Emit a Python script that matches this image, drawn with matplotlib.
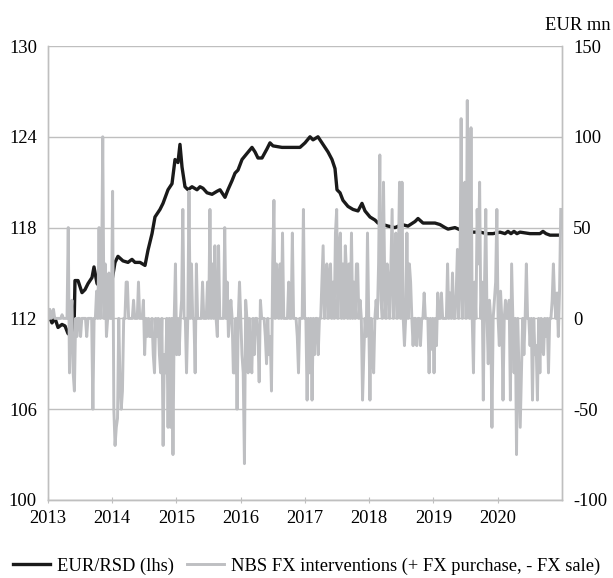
import matplotlib
matplotlib.use("Agg")
import matplotlib.pyplot as plt
import numpy as np
import pandas as pd

plt.rcParams['font.family'] = ['Liberation Serif', 'DejaVu Serif']
plt.rcParams['font.size'] = 13.3

# EUR/RSD exchange rate (lhs), decimal years
fx_years = [2013.000, 2013.062, 2013.109, 2013.156, 2013.218, 2013.265, 2013.311, 2013.374, 2013.405,
            2013.420, 2013.467, 2013.529, 2013.576, 2013.623, 2013.685, 2013.716, 2013.763, 2013.809,
            2013.856, 2013.903, 2013.934, 2013.965, 2013.996, 2014.043, 2014.089, 2014.167, 2014.245,
            2014.307, 2014.354, 2014.432, 2014.510, 2014.556, 2014.619, 2014.665, 2014.743, 2014.790,
            2014.868, 2014.930, 2014.977, 2015.023, 2015.054, 2015.086, 2015.132, 2015.179, 2015.241,
            2015.319, 2015.366, 2015.412, 2015.475, 2015.553, 2015.631, 2015.677, 2015.755, 2015.801,
            2015.864, 2015.911, 2015.957, 2016.020, 2016.097, 2016.175, 2016.222, 2016.268, 2016.331,
            2016.408, 2016.455, 2016.502, 2016.642, 2016.798, 2016.922, 2017.000, 2017.078, 2017.125,
            2017.202, 2017.280, 2017.358, 2017.420, 2017.467, 2017.498, 2017.545, 2017.591, 2017.669,
            2017.747, 2017.825, 2017.887, 2017.934, 2018.012, 2018.089, 2018.136, 2018.214, 2018.292,
            2018.401, 2018.510, 2018.603, 2018.712, 2018.759, 2018.837, 2018.914, 2019.023, 2019.101,
            2019.179, 2019.226, 2019.334, 2019.443, 2019.599, 2019.724, 2019.833, 2019.926, 2020.035,
            2020.113, 2020.159, 2020.206, 2020.253, 2020.299, 2020.346, 2020.502, 2020.657, 2020.704,
            2020.751, 2020.813, 2020.953]
fx_rate = [112.3, 111.7, 112.0, 111.4, 111.6, 111.5, 111.0, 110.8, 111.2,
           114.5, 114.5, 113.7, 113.9, 114.3, 114.7, 115.4, 114.3, 114.1,
           114.8, 114.0, 114.3, 113.8, 114.5, 115.7, 116.1, 115.8, 115.7,
           115.9, 115.7, 115.7, 115.5, 116.5, 117.6, 118.7, 119.2, 119.6,
           120.5, 120.9, 122.5, 122.3, 123.5, 122.0, 120.7, 120.5, 120.7,
           120.5, 120.7, 120.6, 120.3, 120.2, 120.4, 120.5, 120.0, 120.5,
           121.1, 121.6, 121.8, 122.5, 122.9, 123.3, 123.0, 122.6, 122.6,
           123.2, 123.6, 123.4, 123.3, 123.3, 123.3, 123.6, 124.0, 123.8,
           124.0, 123.5, 123.0, 122.5, 121.9, 120.5, 120.3, 119.8, 119.4,
           119.2, 119.1, 119.6, 119.1, 118.7, 118.5, 118.3, 118.2, 118.1,
           118.0, 118.2, 118.1, 118.4, 118.6, 118.3, 118.3, 118.3, 118.2,
           118.0, 117.9, 118.0, 117.8, 117.7, 117.7, 117.6, 117.6, 117.7,
           117.6, 117.75, 117.6, 117.75, 117.6, 117.7, 117.6, 117.6, 117.75,
           117.6, 117.5, 117.5]

# NBS FX interventions (rhs, EUR mn): intervention dates (decimal years) and amounts;
# weeks without an intervention are zero
iv_years = [2013.031, 2013.062, 2013.093, 2013.218, 2013.311,
            2013.342, 2013.374, 2013.389, 2013.420, 2013.451, 2013.514,
            2013.607, 2013.700, 2013.763, 2013.794, 2013.825, 2013.856,
            2013.887, 2013.918, 2013.949, 2013.996, 2014.027, 2014.043, 2014.058, 2014.074,
            2014.089, 2014.121, 2014.136, 2014.152, 2014.214, 2014.245,
            2014.338, 2014.416, 2014.479, 2014.510, 2014.541, 2014.572, 2014.603,
            2014.634, 2014.665, 2014.696, 2014.728, 2014.759, 2014.790, 2014.805, 2014.821, 2014.837,
            2014.868, 2014.899, 2014.914, 2014.945, 2014.977, 2015.008, 2015.039, 2015.070, 2015.101,
            2015.148, 2015.194, 2015.225, 2015.288, 2015.303,
            2015.397, 2015.475, 2015.521, 2015.553, 2015.599, 2015.631,
            2015.662, 2015.755, 2015.786, 2015.817, 2015.849, 2015.880, 2015.911,
            2015.942, 2015.973, 2015.989, 2016.020, 2016.035, 2016.066, 2016.082, 2016.113, 2016.144,
            2016.175, 2016.206, 2016.268, 2016.284, 2016.315, 2016.377, 2016.408,
            2016.439, 2016.455, 2016.486, 2016.502, 2016.517, 2016.548, 2016.579, 2016.611,
            2016.657, 2016.751, 2016.798, 2016.875, 2016.907,
            2016.984, 2017.031, 2017.062, 2017.078, 2017.109, 2017.140,
            2017.202, 2017.265, 2017.280, 2017.311, 2017.342, 2017.374, 2017.405,
            2017.436, 2017.467, 2017.498, 2017.529, 2017.560, 2017.591, 2017.623, 2017.654, 2017.685,
            2017.716, 2017.732, 2017.763, 2017.794, 2017.825, 2017.856, 2017.887, 2017.918, 2017.949,
            2017.981, 2018.012, 2018.043, 2018.074, 2018.105, 2018.136, 2018.167, 2018.183, 2018.214,
            2018.245, 2018.276, 2018.307, 2018.339, 2018.354, 2018.385, 2018.416, 2018.447, 2018.479,
            2018.510, 2018.541, 2018.556, 2018.588, 2018.619, 2018.650, 2018.681, 2018.743,
            2018.805, 2018.852, 2018.930, 2018.961, 2018.977,
            2019.008, 2019.039, 2019.070, 2019.132, 2019.210, 2019.257,
            2019.288, 2019.350, 2019.381, 2019.412, 2019.428, 2019.459, 2019.490, 2019.521,
            2019.553, 2019.584, 2019.615, 2019.646, 2019.677, 2019.708, 2019.724, 2019.755, 2019.770,
            2019.801, 2019.817, 2019.848, 2019.879, 2019.910, 2019.942, 2019.973, 2019.988, 2020.019,
            2020.050, 2020.081, 2020.113, 2020.175, 2020.190, 2020.222, 2020.253, 2020.284,
            2020.299, 2020.331, 2020.346, 2020.377, 2020.408, 2020.439, 2020.502, 2020.533,
            2020.548, 2020.580, 2020.595, 2020.626, 2020.657, 2020.689, 2020.720, 2020.751, 2020.782,
            2020.844, 2020.860, 2020.891, 2020.922, 2020.938, 2020.969, 2020.996]
iv_value = [5, 3, 5, 2, 50,
            -30, 10, -30, -40, -10, -10,
            -10, -50, 15, 50, 20, 100,
            30, -10, 25, 70, -50, -70, -60, -70,
            -55, -35, -50, -40, 20, 20,
            10, 20, 10, -20, -10, -10, -10,
            -20, -30, -10, -20, -30, -70, -20, -60, -30,
            -60, -30, -60, -75, 30, -20, -20, 10, 60,
            -30, 70, 30, -30, 30,
            20, 20, 60, 30, 40, -10,
            40, 50, 20, -10, 10, -30, -30,
            -50, -20, 20, -20, -30, -80, 10, -30, -20,
            -30, -20, -10, -35, 10, -10, -25,
            -20, -10, -40, 30, 65, 30, 20, 30,
            47, 20, 47, -10, -30,
            60, -45, -20, -30, -45, -20,
            -20, 20, 40, 20, 30, 25, 30,
            20, 47, 60, 40, 47, 30, 40, 25, 30,
            20, 47, 20, 30, 30, 10, -45, -20, -10,
            47, -45, -20, -30, 10, 30, 90, 10, 75,
            20, 30, 20, 30, 60, 20, 47, 30, 75,
            75, 20, -15, 47, 30, 20, -15, -15,
            -15, 14, -30, 14, -17,
            -30, -15, 14, 14, 30, 14,
            25, 14, 38, 20, 110, 40, 75, 120,
            30, 105, -30, 20, 60, 30, 75, 20, -45,
            20, 60, -25, 10, -60, 10, 20, 60, -15,
            15, -45, 10, 10, -45, 30, -30, -45,
            -75, -30, -60, -30, -20, 30, -15, -20,
            -45, -20, -15, -45, -30, -15, -20, -10, -30,
            10, 30, 10, 14, -10, 15, 60]

year_ticks = [2013, 2014, 2015, 2016, 2017, 2018, 2019, 2020]
left_ticks = [100, 106, 112, 118, 124, 130]
right_ticks = [-100, -50, 0, 50, 100, 150]

# weekly intervention series, zero in weeks without intervention
weeks = pd.date_range('2013-01-04', '2020-12-31', freq='W-FRI')
wk_years = np.asarray(weeks.year + (weeks.dayofyear - 1) / np.where(weeks.is_leap_year, 366.0, 365.0))
weekly = np.zeros(len(weeks))
iv_arr = np.asarray(iv_years)
idx = np.clip(np.searchsorted(wk_years, iv_arr), 1, len(weeks) - 1)
left = wk_years[idx - 1]
right = wk_years[idx]
idx = np.where(np.abs(iv_arr - left) < np.abs(right - iv_arr), idx - 1, idx)
weekly[idx] = iv_value

grey_axis = '#BFBFBF'
grey_line = '#BEBFC2'

fig = plt.figure(figsize=(6.13, 5.78), dpi=100)
ax = fig.add_axes([0.0783, 0.135, 0.8385, 0.7854])
ax2 = ax.twinx()

l1, = ax.plot(fx_years, fx_rate, color='#1a1a1a', lw=2.4)
l2, = ax2.plot(wk_years, weekly, color=grey_line, lw=2.1)

ax.set_xlim(2013, 2021)
ax.set_ylim(100, 130)
ax2.set_ylim(-100, 150)
ax.set_xticks(year_ticks)
ax.set_xticklabels([str(y) for y in year_ticks])
ax.set_yticks(left_ticks)
ax2.set_yticks(right_ticks)
ax2.set_yticklabels([str(v) for v in right_ticks])

ax.yaxis.grid(True, color=grey_axis, lw=1.0)
ax.set_axisbelow(True)

for a in (ax, ax2):
    a.spines['top'].set_visible(False)
    for s in ['left', 'right', 'bottom']:
        a.spines[s].set_color(grey_axis)
        a.spines[s].set_linewidth(1.0)
ax.tick_params(axis='y', length=0, pad=8)
ax2.tick_params(axis='y', length=0, pad=8)
ax.tick_params(axis='x', direction='inout', length=5, color=grey_axis, pad=5)

fig.text(545 / 613, 1 - 25 / 578, 'EUR mn', ha='left', va='center')

fig.legend([l1, l2], ['EUR/RSD (lhs)', 'NBS FX interventions (+ FX purchase, - FX sale)'],
           loc='center', bbox_to_anchor=(0.5, 0.021), ncol=2, frameon=False,
           handlelength=2.0, handletextpad=0.4, columnspacing=0.7, borderaxespad=0)

fig.savefig('out.png', dpi=100)
